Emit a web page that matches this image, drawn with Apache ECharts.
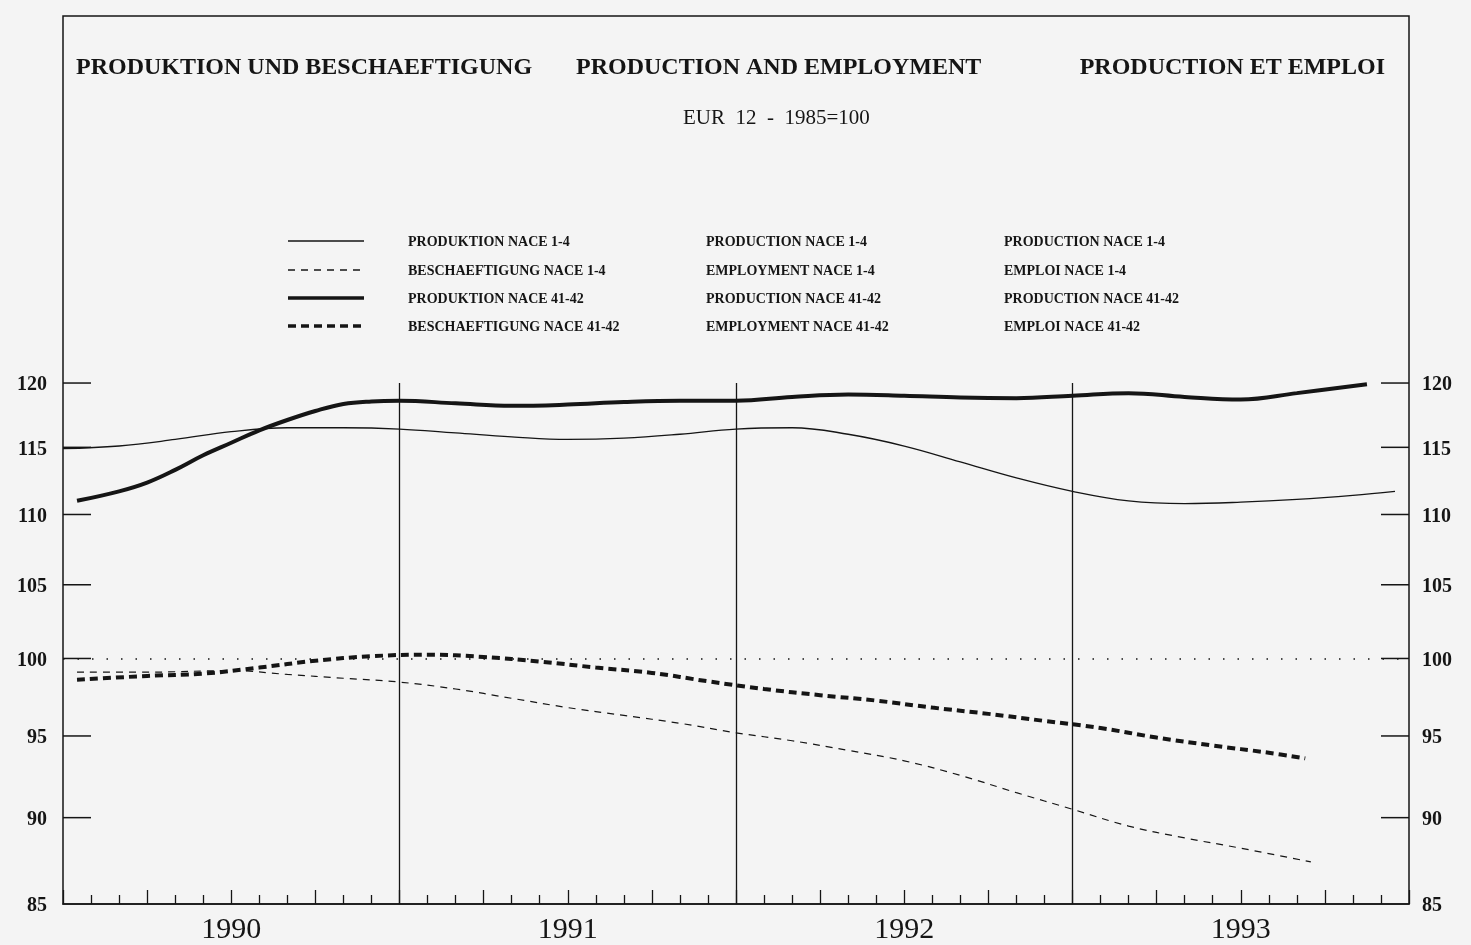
<!DOCTYPE html>
<html><head><meta charset="utf-8">
<script src="https://cdn.jsdelivr.net/npm/echarts@6/dist/echarts.min.js"></script>
<style>html,body{margin:0;padding:0;background:#f4f4f4}#c{width:1471px;height:945px}</style>
</head><body><div id="c"></div><script>
// ---- data ----
const yTicks = [90, 95, 100, 105, 110, 115, 120];
const yLabels85 = [85];
const yearLabels = ['1990', '1991', '1992', '1993'];
const yearLabelPos = [6, 18, 30, 42];
const yearLines = [12, 24, 36];
const refLevel = 100;

const prod14X = [0, 2, 4, 6, 8, 10, 12, 14, 16, 18, 20, 22, 24, 26, 28, 30, 32, 34, 36, 38, 40, 42, 44, 46, 47.5];
const prod14 = [114.9, 115.1, 115.6, 116.2, 116.5, 116.5, 116.4, 116.1, 115.8, 115.6, 115.7, 116.0, 116.4, 116.5, 116.0, 115.1, 113.9, 112.7, 111.7, 111.0, 110.8, 110.9, 111.1, 111.4, 111.7];

const prod4142X = [0.5, 2, 3, 4, 5, 6, 7, 8, 9, 10, 11, 12, 14, 16, 18, 20, 22, 24, 26, 28, 30, 32, 34, 36, 38, 40, 42, 44, 46.5];
const prod4142 = [111.0, 111.7, 112.35, 113.3, 114.4, 115.35, 116.3, 117.1, 117.8, 118.35, 118.55, 118.6, 118.4, 118.2, 118.3, 118.5, 118.6, 118.6, 118.9, 119.1, 119.0, 118.85, 118.8, 119.0, 119.2, 118.9, 118.7, 119.2, 119.9];

const empl14X = [0.5, 3, 6, 8, 10, 12, 14, 16, 18, 20, 22, 24, 26, 28, 30, 32, 34, 36, 38, 40, 42, 44.5];
const empl14 = [99.1, 99.1, 99.2, 98.95, 98.7, 98.45, 98.0, 97.4, 96.8, 96.3, 95.8, 95.2, 94.7, 94.1, 93.45, 92.55, 91.5, 90.5, 89.5, 88.8, 88.2, 87.4];

const empl4142X = [0.5, 3, 5, 7, 9, 11, 13, 15, 17, 19, 21, 23, 25, 27, 29, 31, 33, 35, 37, 39, 41, 43, 44.3];
const empl4142 = [98.6, 98.85, 99.0, 99.4, 99.85, 100.15, 100.25, 100.1, 99.8, 99.4, 99.05, 98.5, 98.0, 97.6, 97.25, 96.8, 96.4, 95.95, 95.5, 94.9, 94.4, 93.95, 93.6];

const titleDe = 'PRODUKTION UND BESCHAEFTIGUNG';
const titleEn = 'PRODUCTION AND EMPLOYMENT';
const titleFr = 'PRODUCTION ET EMPLOI';
const subtitle = 'EUR  12  -  1985=100';

const legendDe = ['PRODUKTION NACE 1-4', 'BESCHAEFTIGUNG NACE 1-4', 'PRODUKTION NACE 41-42', 'BESCHAEFTIGUNG NACE 41-42'];
const legendEn = ['PRODUCTION NACE 1-4', 'EMPLOYMENT NACE 1-4', 'PRODUCTION NACE 41-42', 'EMPLOYMENT NACE 41-42'];
const legendFr = ['PRODUCTION NACE 1-4', 'EMPLOI NACE 1-4', 'PRODUCTION NACE 41-42', 'EMPLOI NACE 41-42'];

// ---- styles ----
const INK = '#151515';
const SLAB = '"Liberation Serif", "DejaVu Serif", serif';
const ROMAN = '"Liberation Serif", "DejaVu Serif", serif';
const lineStyles = [
  { width: 1.3, type: 'solid' },
  { width: 1.2, type: [7, 6] },
  { width: 4, type: 'solid' },
  { width: 4, type: [8, 5] }
];

const zip = (xs, ys) => xs.map((x, i) => [x, ys[i]]);

const chart = echarts.init(document.getElementById('c'), null, { renderer: 'canvas' });

const legendGraphics = [];
const legendRowsY = [242, 271, 299, 327];
legendDe.forEach((t, i) => {
  const ls = lineStyles[i];
  legendGraphics.push({
    type: 'line', shape: { x1: 288, y1: legendRowsY[i] - 1, x2: 364, y2: legendRowsY[i] - 1 },
    style: { stroke: INK, lineWidth: ls.width === 4 ? 3.5 : 1.4, lineDash: ls.type === 'solid' ? null : ls.type }
  });
  [[legendDe, 408], [legendEn, 706], [legendFr, 1004]].forEach(([arr, x]) => {
    legendGraphics.push({
      type: 'text', x: x, y: legendRowsY[i],
      style: { text: arr[i], fill: INK, font: 'bold 14px ' + SLAB, verticalAlign: 'middle', align: 'left' }
    });
  });
});

const titleStyle = { fontFamily: SLAB, fontWeight: 'bold', fontSize: 24, color: INK };
const option = {
  backgroundColor: '#f4f4f4',
  animation: false,
  title: [
    { text: titleDe, left: 76, top: 56, padding: 0, textStyle: titleStyle },
    { text: titleEn, left: 576, top: 56, padding: 0, textStyle: titleStyle },
    { text: titleFr, right: 86, top: 56, padding: 0, textStyle: titleStyle },
    { text: subtitle, left: 683, top: 108, padding: 0, textStyle: { fontFamily: ROMAN, fontWeight: 'normal', fontSize: 21, color: INK } }
  ],
  graphic: legendGraphics,
  grid: { left: 63, right: 62, top: 16, bottom: 40, show: true, borderColor: INK, borderWidth: 1.5, backgroundColor: 'transparent' },
  xAxis: {
    type: 'value', min: 0, max: 48, interval: 3,
    axisLine: { show: true, lineStyle: { color: INK, width: 1.5 } },
    axisTick: { show: true, inside: true, length: 14, lineStyle: { color: INK, width: 1.3 } },
    minorTick: { show: true, splitNumber: 3, length: 9, lineStyle: { color: INK, width: 1.3 } },
    splitLine: { show: false },
    axisLabel: {
      show: true, interval: 0, margin: 11, color: INK, fontFamily: ROMAN, fontSize: 30,
      formatter: v => { const k = yearLabelPos.indexOf(v); return k >= 0 ? yearLabels[k] : ''; }
    }
  },
  yAxis: {
    type: 'log', logBase: 10, min: 85, max: 153,
    axisLine: { show: false }, axisTick: { show: false }, axisLabel: { show: false }, splitLine: { show: false }
  },
  series: [
    {
      name: legendDe[0], type: 'line', data: zip(prod14X, prod14), smooth: 0.4, symbol: 'none',
      lineStyle: { color: INK, width: lineStyles[0].width, type: lineStyles[0].type },
      markLine: {
        silent: true, symbol: 'none', label: { show: false }, animation: false,
        data: [
          { yAxis: refLevel, lineStyle: { color: INK, width: 1.5, type: [1.5, 13] } }
        ].concat(yearLines.map(m => [
          { coord: [m, 85], lineStyle: { color: INK, width: 1.3, type: 'solid' } },
          { coord: [m, 120] }
        ]))
      }
    },
    {
      name: legendDe[1], type: 'line', data: zip(empl14X, empl14), smooth: 0.4, symbol: 'none',
      lineStyle: { color: INK, width: lineStyles[1].width, type: lineStyles[1].type }
    },
    {
      name: legendDe[2], type: 'line', data: zip(prod4142X, prod4142), smooth: 0.4, symbol: 'none',
      lineStyle: { color: INK, width: lineStyles[2].width, type: lineStyles[2].type }
    },
    {
      name: legendDe[3], type: 'line', data: zip(empl4142X, empl4142), smooth: 0.4, symbol: 'none',
      lineStyle: { color: INK, width: lineStyles[3].width, type: lineStyles[3].type }
    },
    {
      name: 'yTicks', type: 'custom', silent: true, clip: false,
      data: yTicks.concat(yLabels85).map(v => [0, v]),
      encode: { x: 0, y: 1 },
      renderItem: (params, api) => {
        const v = api.value(1);
        const pL = api.coord([0, v]);
        const pR = api.coord([48, v]);
        const font = 'bold 20px ' + ROMAN;
        const children = [
          { type: 'text', style: { x: pL[0] - 16, y: pL[1] + 2, text: String(v), align: 'right', verticalAlign: 'middle', font: font, fill: INK } },
          { type: 'text', style: { x: pR[0] + 13, y: pR[1] + 2, text: String(v), align: 'left', verticalAlign: 'middle', font: font, fill: INK } }
        ];
        if (v !== 85) {
          children.push({ type: 'line', shape: { x1: pL[0], y1: pL[1], x2: pL[0] + 28, y2: pL[1] }, style: { stroke: INK, lineWidth: 1.5 } });
          children.push({ type: 'line', shape: { x1: pR[0] - 28, y1: pR[1], x2: pR[0], y2: pR[1] }, style: { stroke: INK, lineWidth: 1.5 } });
        }
        return { type: 'group', children: children };
      }
    }
  ]
};
chart.setOption(option);
</script></body></html>
